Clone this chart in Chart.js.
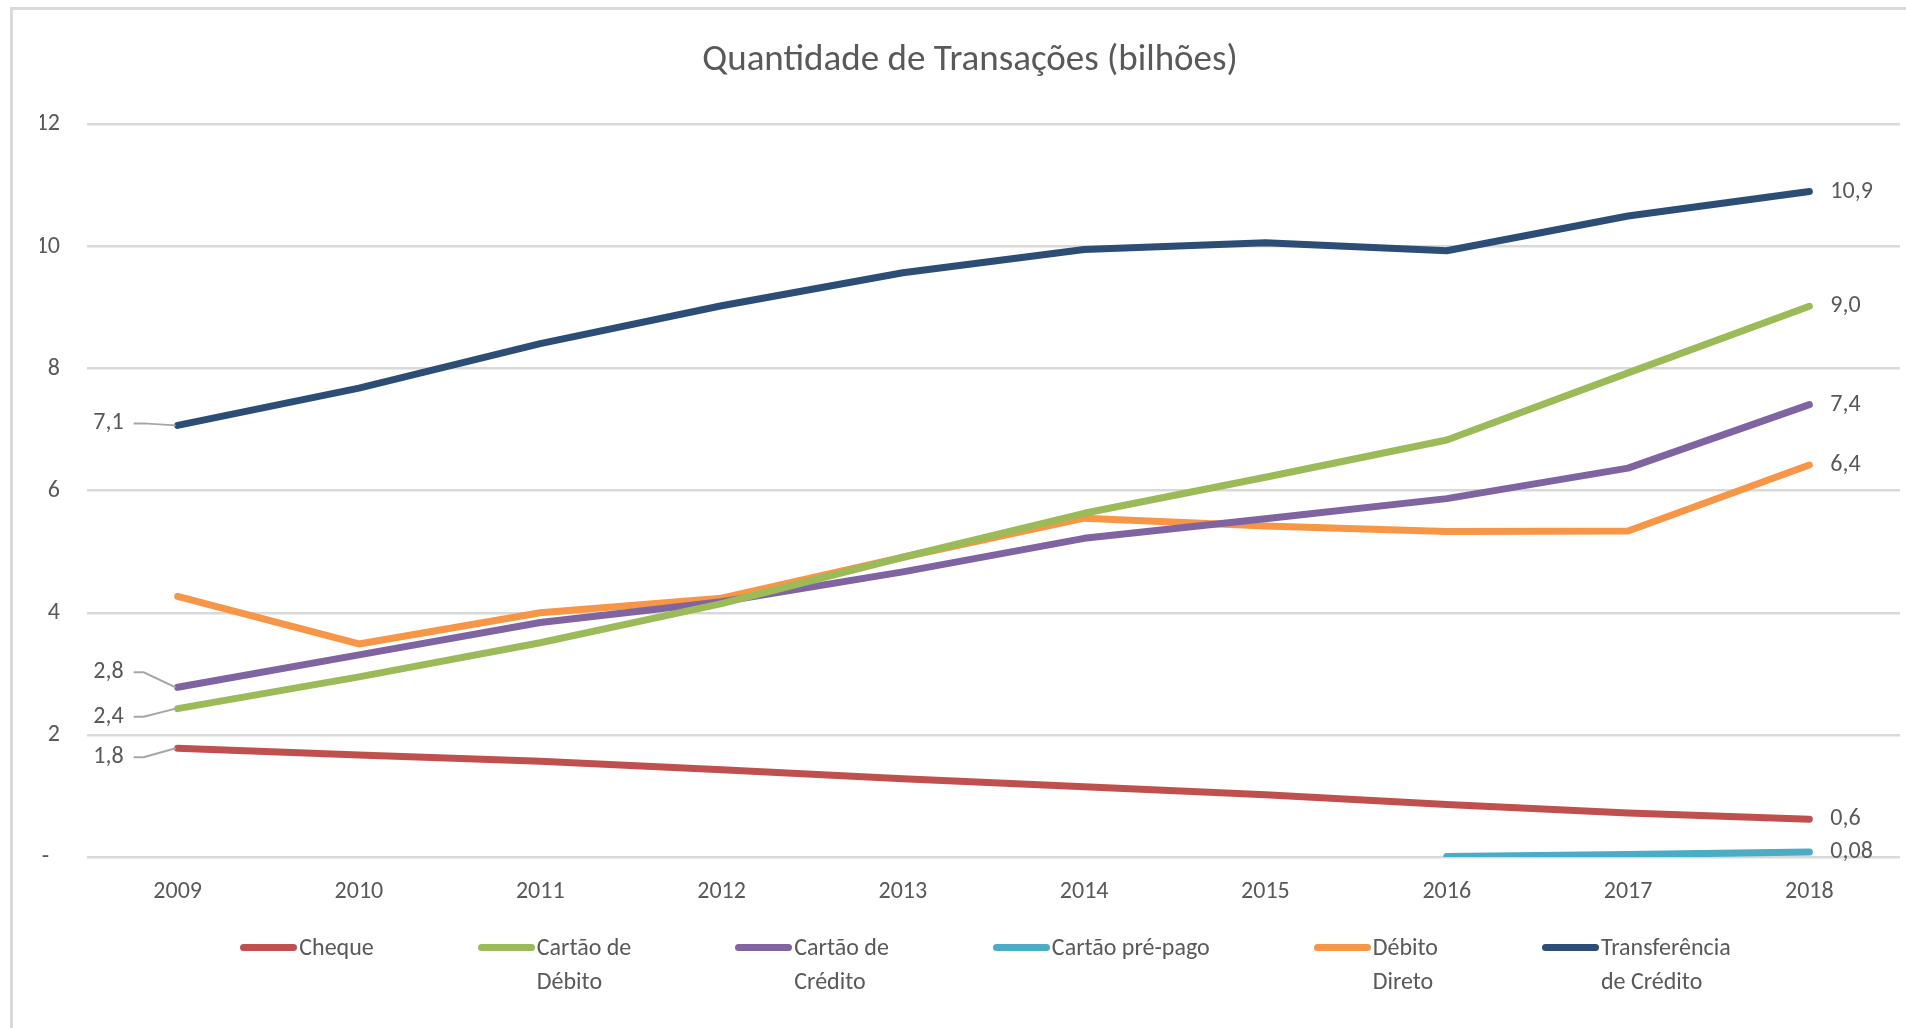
<!DOCTYPE html>
<html>
<head>
<meta charset="utf-8">
<script src="https://cdn.jsdelivr.net/npm/chart.js@4.4.1/dist/chart.umd.min.js"></script>
<style>
  body { margin: 0; background: #fff; overflow: hidden; }
  #wrap { position: relative; width: 1906px; height: 1028px; }
  #frame { position: absolute; left: 10px; top: 7px; width: 1920px; height: 1040px;
           border-left: 3px solid #d9d9d9; border-top: 3px solid #d9d9d9; }
  #chart { position: absolute; left: 0; top: 0; }
  #legend { position: absolute; left: 79px; width: 1813px; top: 930px;
            display: flex; justify-content: center; gap: 104px;
            font-family: Carlito, Calibri, Lato, sans-serif; font-size: 24px; color: #595959; }
  .item { display: flex; align-items: flex-start; }
  .swatch { width: 57px; height: 7px; border-radius: 4px; margin-top: 14px; margin-right: 2px; }
  .txt { line-height: 34px; white-space: nowrap; }
</style>
</head>
<body>
<div id="wrap">
  <div id="frame"></div>
  <canvas id="chart" width="1906" height="1028"></canvas>
  <div id="legend"></div>
</div>
<script>
  // ────────── Data ──────────
  const years = ['2009', '2010', '2011', '2012', '2013', '2014', '2015', '2016', '2017', '2018'];
  const seriesNames = ['Cheque', 'Cartão de Débito', 'Cartão de Crédito', 'Cartão pré-pago', 'Débito Direto', 'Transferência de Crédito'];
  const legendLines = [['Cheque'], ['Cartão de', 'Débito'], ['Cartão de', 'Crédito'], ['Cartão pré-pago'], ['Débito', 'Direto'], ['Transferência', 'de Crédito']];
  const cheque = [1.78, 1.67, 1.57, 1.43, 1.28, 1.15, 1.02, 0.86, 0.72, 0.62];
  const cartaoDebito = [2.43, 2.95, 3.51, 4.15, 4.91, 5.63, 6.22, 6.83, 7.93, 9.02];
  const cartaoCredito = [2.78, 3.31, 3.84, 4.18, 4.67, 5.22, 5.54, 5.87, 6.37, 7.41];
  const cartaoPrePago = [null, null, null, null, null, null, null, 0.01, 0.04, 0.08];
  const debitoDireto = [4.27, 3.49, 4.00, 4.24, 4.91, 5.55, 5.42, 5.33, 5.34, 6.42];
  const transferencia = [7.07, 7.68, 8.41, 9.03, 9.57, 9.95, 10.06, 9.93, 10.50, 10.90];
  const yTicks = [0, 2, 4, 6, 8, 10, 12];

  const colors = ['#C0504D', '#9BBB59', '#8064A2', '#4BACC6', '#F79646', '#2C4D75'];
  const allSeries = [cheque, cartaoDebito, cartaoCredito, cartaoPrePago, debitoDireto, transferencia];

  const FONT = 'Carlito, Calibri, Lato, sans-serif';
  const TEXT = '#595959';

  function fmt(v) {
    const d = v < 0.1 ? 2 : 1;
    return v.toFixed(d).replace('.', ',');
  }

  // start labels (2009) with leader lines: dataset index -> vertical offset of text
  const startLabelDy = { 0: 9, 1: 8, 2: -15, 5: -2 };

  // ────────── Value labels plugin ──────────
  const valueLabels = {
    id: 'valueLabels',
    afterDatasetsDraw(chart) {
      const ctx = chart.ctx;
      ctx.save();
      ctx.font = '24px ' + FONT;
      ctx.fillStyle = TEXT;
      ctx.textBaseline = 'middle';
      chart.data.datasets.forEach((ds, i) => {
        const pts = chart.getDatasetMeta(i).data;
        const last = pts[pts.length - 1];
        ctx.textAlign = 'left';
        ctx.fillText(fmt(ds.data[ds.data.length - 1]), last.x + 21, last.y);
        if (startLabelDy[i] !== undefined) {
          const p = pts[0];
          const ty = p.y + startLabelDy[i];
          ctx.textAlign = 'right';
          ctx.fillText(fmt(ds.data[0]), p.x - 54, ty);
          ctx.strokeStyle = '#A6A6A6';
          ctx.lineWidth = 2;
          ctx.beginPath();
          ctx.moveTo(p.x - 44, ty);
          ctx.lineTo(p.x - 34, ty);
          ctx.lineTo(p.x - 2, p.y);
          ctx.stroke();
        }
      });
      ctx.restore();
    }
  };

  // ────────── Chart ──────────
  const ctx = document.getElementById('chart').getContext('2d');
  new Chart(ctx, {
    type: 'line',
    data: {
      labels: years,
      datasets: allSeries.map((d, i) => ({
        label: seriesNames[i],
        data: d,
        borderColor: colors[i],
        backgroundColor: colors[i],
        borderWidth: 7,
        pointRadius: 0,
        borderCapStyle: 'round',
        borderJoinStyle: 'round',
        tension: 0,
        fill: false
      }))
    },
    options: {
      responsive: false,
      animation: false,
      layout: { padding: { left: 40, right: 6, top: 0, bottom: 121 } },
      plugins: {
        legend: { display: false },
        tooltip: { enabled: false },
        title: {
          display: true,
          text: 'Quantidade de Transações (bilhões)',
          color: TEXT,
          font: { family: FONT, size: 37, weight: 'normal', lineHeight: 1.2 },
          padding: { top: 39, bottom: 41 }
        }
      },
      scales: {
        x: {
          offset: true,
          grid: { display: false, drawTicks: false },
          border: { display: false },
          ticks: { color: TEXT, font: { family: FONT, size: 24 }, padding: 21 },
          afterFit(scale) { scale.height = 50; }
        },
        y: {
          min: 0,
          max: 12,
          afterBuildTicks(scale) { scale.ticks = yTicks.map(v => ({ value: v })); },
          grid: { color: '#D9D9D9', lineWidth: 2.5, drawTicks: false },
          border: { display: false },
          ticks: {
            color: TEXT,
            font: { family: FONT, size: 24 },
            padding: 27,
            callback: v => (v === 0 ? '-  ' : String(v))
          },
          afterFit(scale) { scale.width = 47; }
        }
      }
    },
    plugins: [valueLabels]
  });

  // ────────── Legend ──────────
  const legendEl = document.getElementById('legend');
  legendLines.forEach((lines, i) => {
    const item = document.createElement('div');
    item.className = 'item';
    const sw = document.createElement('div');
    sw.className = 'swatch';
    sw.style.background = colors[i];
    const txt = document.createElement('div');
    txt.className = 'txt';
    lines.forEach((l, k) => {
      if (k) txt.appendChild(document.createElement('br'));
      txt.appendChild(document.createTextNode(l));
    });
    item.appendChild(sw);
    item.appendChild(txt);
    legendEl.appendChild(item);
  });
</script>
</body>
</html>
